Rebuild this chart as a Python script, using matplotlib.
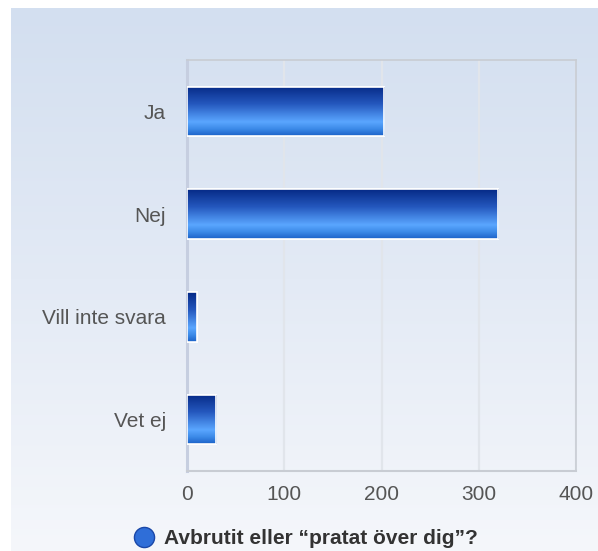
import numpy as np
import matplotlib
matplotlib.use("Agg")
import matplotlib.pyplot as plt
from matplotlib.colors import LinearSegmentedColormap
from matplotlib.lines import Line2D

plt.rcParams['font.family'] = ['Liberation Sans', 'DejaVu Sans']

categories = ["Ja", "Nej", "Vill inte svara", "Vet ej"]
values = [203, 320, 10, 30]
series_name = "Avbrutit eller \u201cpratat över dig\u201d?"
x_ticks = [0, 100, 200, 300, 400]

W, H = 598, 551
fig = plt.figure(figsize=(W / 100, H / 100), dpi=100)
fig.patch.set_facecolor("white")

# soft blue background panel
bg = fig.add_axes([11 / W, 0, 1 - 11 / W, 1 - 8 / H], zorder=-2)
bg_cmap = LinearSegmentedColormap.from_list("bg", ["#d3dff0", "#e3eaf5", "#f5f7fb"])
bg.imshow(np.linspace(0, 1, 256).reshape(-1, 1), aspect="auto", cmap=bg_cmap,
          extent=(0, 1, 0, 1), origin="upper")
bg.set_axis_off()

ax = fig.add_axes([187 / W, 1 - 471 / H, (576 - 187) / W, (471 - 60) / H])
ax.set_facecolor("none")

ypos = np.arange(len(categories))
bars = ax.barh(ypos, values, height=0.48, color="#2a64d0",
               edgecolor="white", linewidth=1.2, zorder=3)

ax.set_xlim(0, 400)
ax.set_ylim(len(categories) - 0.5, -0.5)

# vertical gradient fill for each bar
bar_cmap = LinearSegmentedColormap.from_list(
    "bar", [(0.0, "#062a86"), (0.35, "#2457bd"), (0.72, "#5aa6ff"),
            (0.86, "#3c8ae8"), (1.0, "#1c62c8")])
grad = np.linspace(0, 1, 128).reshape(-1, 1)
for b in bars:
    x0, y0 = b.get_x(), b.get_y()
    w, h = b.get_width(), b.get_height()
    im = ax.imshow(grad, aspect="auto", cmap=bar_cmap,
                   extent=(x0, x0 + w, y0 + h, y0), origin="upper", zorder=3.5)
    im.set_clip_path(b)
    edge = plt.Rectangle((x0, y0), w, h, fill=False, edgecolor="white",
                         linewidth=1.2, zorder=4)
    ax.add_patch(edge)
ax.set_xlim(0, 400)
ax.set_ylim(len(categories) - 0.5, -0.5)

ax.set_yticks(ypos)
ax.set_yticklabels(categories)
ax.set_xticks(x_ticks)
ax.tick_params(axis="y", length=0, pad=15, labelsize=15, labelcolor="#555555")
ax.tick_params(axis="x", length=0, pad=10, labelsize=15, labelcolor="#555555")

ax.grid(axis="x", color="#e1e5eb", linewidth=1.6, zorder=0)
ax.set_axisbelow(True)
for side in ["top", "right"]:
    ax.spines[side].set_color("#c8ccd3")
    ax.spines[side].set_linewidth(1.2)
ax.spines["bottom"].set_color("#c8ccd3")
ax.spines["bottom"].set_linewidth(1.5)
ax.spines["left"].set_color("#c6cee0")
ax.spines["left"].set_linewidth(2.2)

handle = Line2D([], [], linestyle="none", marker="o", markersize=14.5,
                markerfacecolor="#2f6ed8", markeredgecolor="#1b48a8",
                markeredgewidth=1.0)
fig.legend([handle], [series_name], loc="center",
           bbox_to_anchor=(0.511, 1 - 539 / H), frameon=False,
           borderpad=0, handlelength=1.0, handletextpad=0.45,
           prop={"size": 15, "weight": "bold"}, labelcolor="#333333")

fig.savefig("out.png", dpi=100)
